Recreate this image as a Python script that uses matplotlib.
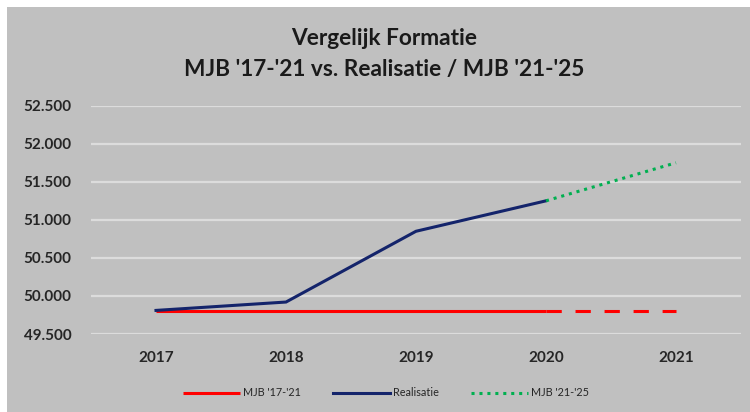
import matplotlib
matplotlib.use("Agg")
import matplotlib.pyplot as plt
from matplotlib.patches import Rectangle
from matplotlib.ticker import FuncFormatter, MultipleLocator
import numpy as np

years = ["2017", "2018", "2019", "2020", "2021"]
mjb_17_21 = [49800, 49800, 49800, 49800, 49800]
realisatie = [49810, 49920, 50850, 51250, np.nan]
mjb_21_25 = [np.nan, np.nan, np.nan, 51250, 51750]

title = "Vergelijk Formatie\nMJB '17-'21 vs. Realisatie / MJB '21-'25"
labels = ["MJB '17-'21", "Realisatie", "MJB '21-'25"]

W, H = 750, 412
fig = plt.figure(figsize=(W / 100, H / 100), dpi=100, facecolor="white")
bg = Rectangle((7 / W, 0), 1 - 7 / W, 1 - 7 / H, transform=fig.transFigure,
               facecolor="#C0C0C0", edgecolor="none", zorder=-10)
fig.add_artist(bg)

ax = fig.add_axes([91 / W, 1 - 334 / H, 650 / W, (334 - 105.7) / H])
ax.set_zorder(1)
ax.set_facecolor("none")
x = np.arange(len(years))

ax.set_xlim(-0.5, 4.5)
ax.set_ylim(49500, 52500)
ax.yaxis.set_major_locator(MultipleLocator(500))
ax.yaxis.set_major_formatter(FuncFormatter(lambda v, p: f"{v:,.0f}".replace(",", ".")))
ax.grid(axis="y", color="#DCDCDC", linewidth=1.6)
ax.set_axisbelow(True)
for s in ax.spines.values():
    s.set_visible(False)
ax.tick_params(length=0)
ax.tick_params(axis="y", pad=14)
ax.tick_params(axis="x", pad=12)
ax.set_xticks(x)
ax.set_xticklabels(years)
for lab in ax.get_xticklabels() + ax.get_yticklabels():
    lab.set_fontfamily("Lato")
    lab.set_fontweight("bold")
    lab.set_fontsize(11)
    lab.set_color("#262626")

red = "#FF0000"
blue = "#14246B"
green = "#00B050"
lw = 2.2

# MJB '17-'21 solid through 2020, dashed to 2021
l1, = ax.plot(x[:4], mjb_17_21[:4], color=red, lw=lw, solid_capstyle="butt", zorder=3)
ax.plot(x[3:], mjb_17_21[3:], color=red, lw=lw, linestyle=(0, (5, 4.5)),
        dash_capstyle="butt", zorder=3)
l2, = ax.plot(x, realisatie, color=blue, lw=lw, solid_joinstyle="miter", zorder=4)
l3, = ax.plot(x, mjb_21_25, color=green, lw=lw, linestyle=(0, (1, 1.6)),
              dash_capstyle="butt", zorder=4)

fig.text(384 / W, 1 - 54 / H, title, ha="center", va="center", fontsize=16.3,
         fontweight="bold", fontfamily="Lato", color="#1A1A1A", linespacing=1.55)

leg = fig.legend([l1, l2, l3], labels, loc="center", bbox_to_anchor=(386 / W, 1 - 393 / H),
                 ncol=3, frameon=False, handlelength=5.2, handletextpad=0.3,
                 columnspacing=3.0, prop={"family": "Lato", "size": 7.8})
for t in leg.get_texts():
    t.set_color("#262626")

fig.savefig("out.png", dpi=100, facecolor="white")
